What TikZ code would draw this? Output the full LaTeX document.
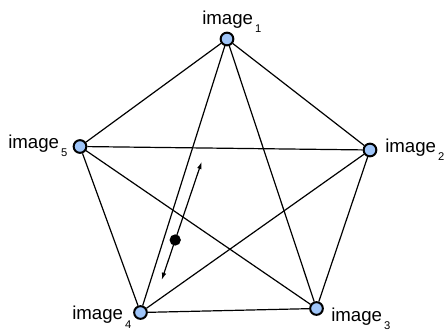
\documentclass[tikz,border=0pt]{standalone}
\usepackage{fontspec}
\setmainfont{Liberation Sans}
\usetikzlibrary{arrows.meta}
\definecolor{nodeblue}{HTML}{9FC5F8}
\tikzset{
  vertex/.style={circle, draw=black, line width=1.5pt, fill=nodeblue, inner sep=0pt, minimum size=9.5pt},
  imglabel/.style={inner sep=0pt, font=\fontsize{14}{16}\selectfont},
  edge/.style={line width=0.9pt},
  dot/.style={circle, fill=black, inner sep=0pt, minimum size=8.5pt}
}
\newcommand{\imgname}[1]{image\hspace{1.5pt}\raisebox{-6pt}{\fontsize{8.4}{9}\selectfont #1}}

\begin{document}
\begin{tikzpicture}[x=0.75pt,y=-0.75pt]
    \useasboundingbox (0,0) rectangle (444,332);

    % vertices
    \node[vertex] (v1) at (227,39) {};
    \node[vertex] (v2) at (370,150) {};
    \node[vertex] (v3) at (316.5,308.5) {};
    \node[vertex] (v4) at (140.5,312.5) {};
    \node[vertex] (v5) at (80,146.5) {};

    % labels
    \node[imglabel, anchor=base west] (l1) at (202,24) {\imgname{1}};
    \node[imglabel, anchor=base west] (l2) at (385,152) {\imgname{2}};
    \node[imglabel, anchor=base west] (l3) at (331,321) {\imgname{3}};
    \node[imglabel, anchor=base west] (l4) at (72,320) {\imgname{4}};
    \node[imglabel, anchor=base west] (l5) at (8,148) {\imgname{5}};

    % edges
    \foreach \a/\b in {1/2,1/3,1/4,1/5,2/3,2/4,2/5,3/4,3/5,4/5}
        \draw[edge] (v\a) -- (v\b);

    % arrow with dot
    \coordinate (top) at (201.7,161.7);
    \coordinate (bot) at (161.7,280);
    \draw[edge, {Latex[length=5.5pt,width=3.5pt]}-{Latex[length=5.5pt,width=3.5pt]}] (top) -- (bot);
    \node[dot] (d) at (175.2,240) {};
\end{tikzpicture}
\end{document}
